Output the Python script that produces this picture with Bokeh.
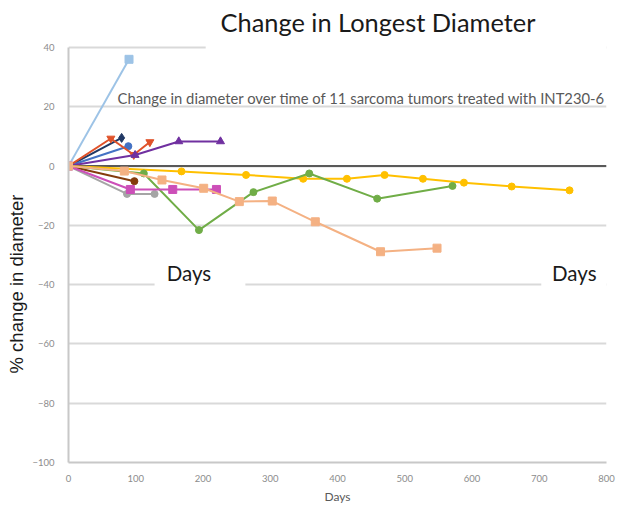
from bokeh.plotting import figure
from bokeh.models import FixedTicker, Label, Span, Range1d, Title
from bokeh.embed import file_html
from bokeh.resources import INLINE

# Axis ticks
x_ticks = [0, 100, 200, 300, 400, 500, 600, 700, 800]
y_ticks = [40, 20, 0, -20, -40, -60, -80, -100]

# Per-tumor measurements: days since first dose vs % change in longest diameter
lightblue_days = [0, 90]
lightblue_pct = [0, 36]

navy_days = [0, 79]
navy_pct = [0, 9.5]

blue_days = [0, 89]
blue_pct = [0, 6.7]

orange_days = [0, 63, 97, 121]
orange_pct = [0, 9.3, 3.8, 8.1]

purple_days = [0, 99, 164, 226]
purple_pct = [0, 3.7, 8.3, 8.3]

yellow_days = [0, 168, 264, 349, 414, 470, 527, 588, 659, 745]
yellow_pct = [0, -1.8, -3.0, -4.3, -4.3, -3.0, -4.3, -5.6, -6.9, -8.2]

green_days = [0, 112, 194, 275, 358, 459, 571]
green_pct = [0, -2.5, -21.6, -8.8, -2.5, -11.0, -6.7]

gray_days = [0, 87, 128]
gray_pct = [0, -9.4, -9.4]

brown_days = [0, 98]
brown_pct = [0, -5.1]

magenta_days = [0, 92, 155, 220]
magenta_pct = [0, -7.9, -7.9, -7.9]

peach_days = [0, 83, 139, 201, 254, 303, 367, 464, 548]
peach_pct = [0, -1.7, -4.7, -7.5, -12.0, -11.8, -18.8, -28.9, -27.7]

series = [
    (lightblue_days, lightblue_pct, "#9DC3E6", "square", 8),
    (navy_days, navy_pct, "#203864", "diamond", 9),
    (blue_days, blue_pct, "#4472C4", "circle", 7),
    (orange_days, orange_pct, "#E0522A", "inverted_triangle", 8),
    (purple_days, purple_pct, "#7030A0", "triangle", 8),
    (yellow_days, yellow_pct, "#FFC000", "circle", 7),
    (green_days, green_pct, "#70AD47", "circle", 7),
    (gray_days, gray_pct, "#A5A5A5", "circle", 7),
    (brown_days, brown_pct, "#843C0C", "circle", 7),
    (magenta_days, magenta_pct, "#CC4FB8", "square", 8),
    (peach_days, peach_pct, "#F4B183", "square", 8),
]

p = figure(width=618, height=512, x_range=Range1d(0, 800), y_range=Range1d(-100, 41),
           output_backend="svg", toolbar_location=None, title=None,
           min_border_left=68, min_border_right=12, min_border_top=44, min_border_bottom=50)
p.outline_line_color = None
p.background_fill_color = "white"
p.border_fill_color = "white"

p.xgrid.visible = False
p.ygrid.ticker = FixedTicker(ticks=y_ticks)
p.ygrid.grid_line_color = "#D9D9D9"
p.ygrid.grid_line_width = 2

for ax in (p.xaxis, p.yaxis):
    ax.axis_line_color = "#C8C8C8"
    ax.axis_line_width = 2
    ax.major_tick_line_color = None
    ax.minor_tick_line_color = None
    ax.major_label_text_color = "#8C8C8C"
    ax.major_label_text_font = "Lato"
    ax.major_label_text_font_size = "9.5px"
p.xaxis.ticker = FixedTicker(ticks=x_ticks)
p.yaxis.ticker = FixedTicker(ticks=y_ticks)
p.yaxis.bounds = (-100, 40)
p.yaxis.major_label_standoff = 8
p.xaxis.major_label_standoff = 6
p.xaxis.axis_label = "Days"
p.xaxis.axis_label_text_font = "Lato"
p.xaxis.axis_label_text_font_style = "normal"
p.xaxis.axis_label_text_font_size = "12px"
p.xaxis.axis_label_text_color = "#595959"
p.xaxis.axis_label_standoff = 4

# chart title and vertical axis title
p.add_layout(Title(text="Change in Longest Diameter", align="left", offset=152,
                   vertical_align="top", text_font="Lato", text_font_size="25.4px",
                   text_font_style="normal", text_color="#1A1A1A", standoff=11), "above")
p.add_layout(Title(text="% change in diameter", align="left", offset=89,
                   text_font="Liberation Sans", text_font_size="18.5px", text_font_style="normal",
                   text_color="#1A1A1A", standoff=5), "left")

# zero reference line
p.add_layout(Span(location=0, dimension="width", line_color="#595959",
                  line_width=2, level="underlay"))

# white panels behind the floating text boxes
p.quad(left=[204, 128, 703], right=[800, 263, 800], bottom=[37, -42, -42], top=[43, -38, -38],
       fill_color="white", line_color=None)

for xs, ys, color, marker, size in series:
    p.line(xs, ys, line_color=color, line_width=2)
    p.scatter(xs, ys, marker=marker, size=size, fill_color=color, line_color=color)

p.add_layout(Label(x=73, y=23, text="Change in diameter over time of 11 sarcoma tumors treated with INT230-6",
                   text_align="left", text_baseline="middle", text_font="Lato",
                   text_font_size="14.8px", text_color="#595959"))
p.add_layout(Label(x=146, y=-36, text="Days", text_align="left", text_baseline="middle",
                   text_font="Lato", text_font_size="20.5px", text_color="#1A1A1A"))
p.add_layout(Label(x=719, y=-36, text="Days", text_align="left", text_baseline="middle",
                   text_font="Lato", text_font_size="20.5px", text_color="#1A1A1A"))

open("out.html", "w").write(file_html(p, INLINE))
